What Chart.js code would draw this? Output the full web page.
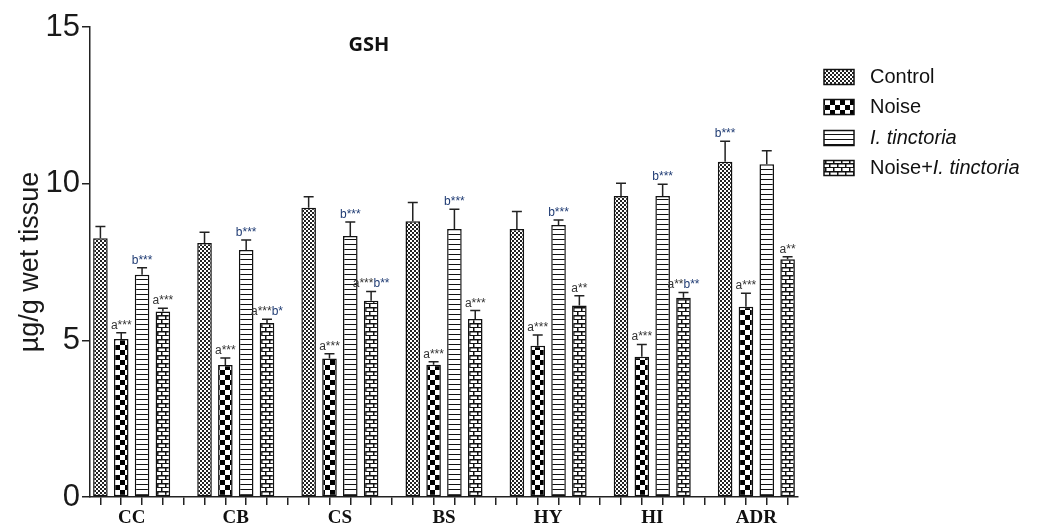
<!DOCTYPE html>
<html>
<head>
<meta charset="utf-8">
<script src="https://cdn.jsdelivr.net/npm/chart.js@4/dist/chart.umd.min.js"></script>
<style>
  html, body { margin: 0; padding: 0; background: #fff; }
  #wrap { width: 1039px; height: 527px; position: relative; }
</style>
</head>
<body>
<div id="wrap"><canvas id="gshChart"></canvas></div>
<script>
// данные
const groups = ['CC', 'CB', 'CS', 'BS', 'HY', 'HI', 'ADR'];
const seriesNames = ['Control', 'Noise', 'I. tinctoria', 'Noise+I. tinctoria'];

const controlMean = [8.26, 8.11, 9.23, 8.80, 8.55, 9.61, 10.70];
const controlErr  = [0.37, 0.34, 0.35, 0.60, 0.56, 0.40, 0.65];
const noiseMean   = [5.04, 4.21, 4.42, 4.22, 4.83, 4.48, 6.07];
const noiseErr    = [0.20, 0.23, 0.15, 0.10, 0.34, 0.39, 0.43];
const tinctMean   = [7.09, 7.88, 8.33, 8.55, 8.68, 9.61, 10.62];
const tinctErr    = [0.23, 0.32, 0.45, 0.63, 0.16, 0.37, 0.43];
const comboMean   = [5.92, 5.55, 6.26, 5.68, 6.11, 6.36, 7.59];
const comboErr    = [0.10, 0.12, 0.30, 0.27, 0.31, 0.17, 0.08];

const controlSig = ['', '', '', '', '', '', 'b***'];
const noiseSig   = ['a***', 'a***', 'a***', 'a***', 'a***', 'a***', 'a***'];
const tinctSig   = ['b***', 'b***', 'b***', 'b***', 'b***', 'b***', ''];
const comboSig   = ['a***', 'a***b*', 'a***b**', 'a***', 'a**', 'a**b**', 'a**'];

const yTicks = [0, 5, 10, 15];

// 4 столбца + 1 пустой слот на группу
const SLOTS_PER_GROUP = 5;
const slotCount = groups.length * SLOTS_PER_GROUP - 1;
const slotLabels = [];
for (let i = 0; i < slotCount; i++) slotLabels.push('s' + i);

function toSlots(values, seriesIdx) {
  const arr = new Array(slotCount).fill(null);
  values.forEach((v, g) => { arr[g * SLOTS_PER_GROUP + seriesIdx] = v; });
  return arr;
}

// штриховки
function makePattern(kind) {
  const c = document.createElement('canvas');
  const x = c.getContext('2d');
  if (kind === 'fine') {
    c.width = 4; c.height = 4;
    x.fillStyle = '#fff'; x.fillRect(0, 0, 4, 4);
    x.fillStyle = '#222';
    x.fillRect(0, 0, 2, 2); x.fillRect(2, 2, 2, 2);
  } else if (kind === 'checker') {
    c.width = 10; c.height = 10;
    x.fillStyle = '#fff'; x.fillRect(0, 0, 10, 10);
    x.fillStyle = '#000';
    x.fillRect(0, 0, 5, 5); x.fillRect(5, 5, 5, 5);
  } else if (kind === 'hlines') {
    c.width = 4; c.height = 5;
    x.fillStyle = '#fff'; x.fillRect(0, 0, 4, 5);
    x.fillStyle = '#111'; x.fillRect(0, 4, 4, 1);
  } else {
    // кирпичи
    c.width = 8; c.height = 8;
    x.fillStyle = '#fff'; x.fillRect(0, 0, 8, 8);
    x.fillStyle = '#111';
    x.fillRect(0, 3, 8, 1.5); x.fillRect(0, 7, 8, 1.5);
    x.fillRect(1, 0, 1.5, 3.5); x.fillRect(5, 4, 1.5, 3.5);
  }
  return x.createPattern(c, 'repeat');
}

const patterns = [makePattern('fine'), makePattern('checker'), makePattern('hlines'), makePattern('brick')];
const means = [controlMean, noiseMean, tinctMean, comboMean];
const errs = [controlErr, noiseErr, tinctErr, comboErr];
const sigs = [controlSig, noiseSig, tinctSig, comboSig];

const datasets = means.map((m, i) => ({
  label: seriesNames[i],
  data: toSlots(m, i),
  backgroundColor: patterns[i],
  borderColor: '#111',
  borderWidth: 1.5,
  borderSkipped: false,
  grouped: false,
  barPercentage: 0.7,
  categoryPercentage: 1.0
}));

// планки погрешностей, подписи значимости, групповые подписи, легенда
const extrasPlugin = {
  id: 'extras',
  afterDatasetsDraw(chart) {
    const ctx = chart.ctx;
    const xs = chart.scales.x;
    const ys = chart.scales.y;
    ctx.save();
    ctx.strokeStyle = '#222';
    ctx.lineWidth = 1.5;
    means.forEach((m, s) => {
      m.forEach((v, g) => {
        const slot = g * SLOTS_PER_GROUP + s;
        const px = xs.getPixelForValue(slot);
        const yBar = ys.getPixelForValue(v);
        const yTop = ys.getPixelForValue(v + errs[s][g]);
        ctx.beginPath();
        ctx.moveTo(px, yBar);
        ctx.lineTo(px, yTop);
        ctx.moveTo(px - 5, yTop);
        ctx.lineTo(px + 5, yTop);
        ctx.stroke();

        const txt = sigs[s][g];
        if (txt) {
          ctx.font = '12px "Liberation Sans", Arial, sans-serif';
          ctx.textBaseline = 'alphabetic';
          const parts = txt.match(/[ab]\*+/g);
          const total = ctx.measureText(txt).width;
          let cx = px - total / 2;
          parts.forEach(p => {
            ctx.fillStyle = p[0] === 'b' ? '#1f3b73' : '#333';
            ctx.textAlign = 'left';
            ctx.fillText(p, cx, yTop - 4);
            cx += ctx.measureText(p).width;
          });
        }
      });
    });

    // подписи групп
    ctx.fillStyle = '#111';
    ctx.font = 'bold 19px "Liberation Serif", "Times New Roman", serif';
    ctx.textAlign = 'center';
    ctx.textBaseline = 'middle';
    groups.forEach((name, g) => {
      const a = xs.getPixelForValue(g * SLOTS_PER_GROUP + 1);
      const b = xs.getPixelForValue(g * SLOTS_PER_GROUP + 2);
      ctx.fillText(name, (a + b) / 2, 518);
    });

    // заголовок
    ctx.font = 'bold 20px "Open Sans", "Noto Sans", sans-serif';
    ctx.fillText('GSH', 369, 45);

    // легенда
    const rows = [77, 107, 138, 168];
    rows.forEach((ry, i) => {
      ctx.fillStyle = patterns[i];
      ctx.fillRect(824, ry - 7.5, 30, 15);
      ctx.strokeStyle = '#111';
      ctx.lineWidth = 1.5;
      ctx.strokeRect(824, ry - 7.5, 30, 15);
      ctx.fillStyle = '#111';
      ctx.textAlign = 'left';
      ctx.textBaseline = 'middle';
      const normal = '20px "Liberation Sans", Arial, sans-serif';
      const italic = 'italic 20px "Liberation Sans", Arial, sans-serif';
      if (i < 2) {
        ctx.font = normal;
        ctx.fillText(seriesNames[i], 870, ry);
      } else if (i === 2) {
        ctx.font = italic;
        ctx.fillText(seriesNames[i], 870, ry);
      } else {
        ctx.font = normal;
        ctx.fillText('Noise+', 870, ry);
        const w = ctx.measureText('Noise+').width;
        ctx.font = italic;
        ctx.fillText('I. tinctoria', 870 + w, ry);
      }
    });
    ctx.restore();
  }
};

new Chart(document.getElementById('gshChart'), {
  type: 'bar',
  data: { labels: slotLabels, datasets: datasets },
  options: {
    responsive: true,
    maintainAspectRatio: false,
    animation: false,
    layout: { padding: { left: 14, right: 241, top: 27, bottom: 0 } },
    plugins: {
      legend: { display: false },
      tooltip: { enabled: false }
    },
    scales: {
      x: {
        offset: true,
        grid: { offset: false, drawOnChartArea: false, drawTicks: true, tickLength: 8, color: '#222', lineWidth: 1.5 },
        border: { display: true, color: '#222', width: 1.5 },
        ticks: { callback: () => '', autoSkip: false, maxRotation: 0 },
        afterFit(scale) { scale.height = 30; }
      },
      y: {
        min: 0,
        max: 15,
        afterBuildTicks(scale) { scale.ticks = yTicks.map(v => ({ value: v })); },
        grid: { drawOnChartArea: false, drawTicks: true, tickLength: 8, color: '#222', lineWidth: 1.5 },
        border: { display: true, color: '#222', width: 1.5 },
        ticks: {
          color: '#1a1a1a',
          padding: 2,
          font: { family: '"Liberation Sans", Arial, sans-serif', size: 31 }
        },
        title: {
          display: true,
          text: 'µg/g wet tissue',
          color: '#1a1a1a',
          padding: { top: 0, bottom: 2 },
          font: { family: '"Liberation Sans", Arial, sans-serif', size: 27 }
        },
        afterFit(scale) { scale.width = 76; }
      }
    }
  },
  plugins: [extrasPlugin]
});
</script>
</body>
</html>
